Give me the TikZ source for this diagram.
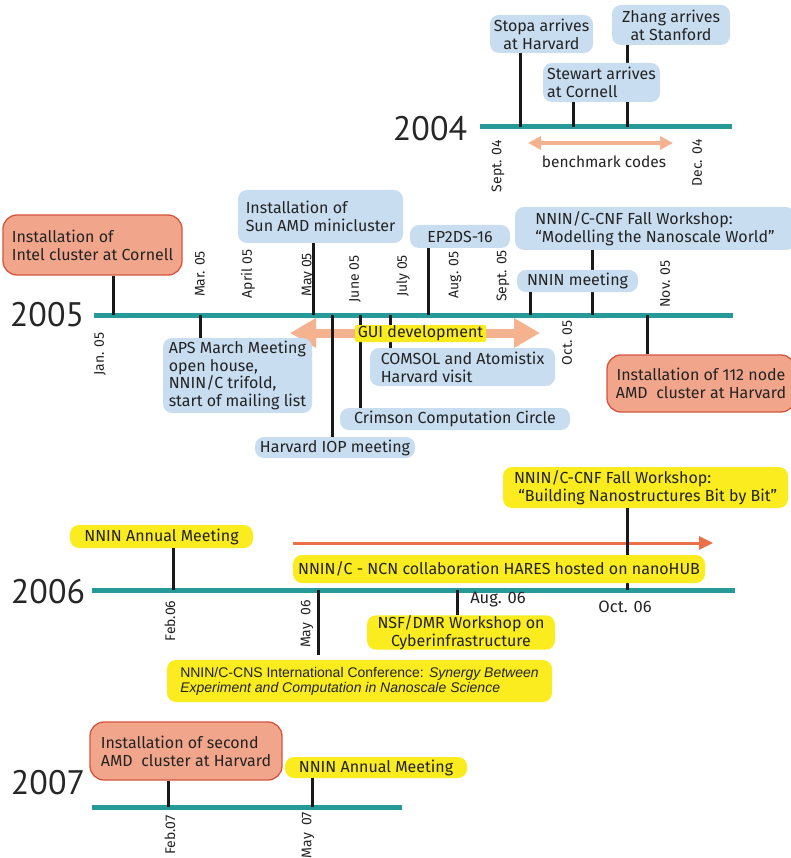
\documentclass[tikz,border=0pt]{standalone}
\usepackage{fontspec}
\setmainfont{Fira Sans}
\newfontfamily\yrf{PT Sans}
\newfontfamily\arialf{Liberation Sans}
\usetikzlibrary{arrows.meta}
\definecolor{teal1}{RGB}{38,154,153}
\definecolor{boxblue}{RGB}{200,221,240}
\definecolor{salfill}{RGB}{241,166,140}
\definecolor{salborder}{RGB}{214,84,62}
\definecolor{ylw}{RGB}{250,236,30}
\definecolor{salarrow}{RGB}{245,178,143}
\definecolor{orarrow}{RGB}{235,112,72}
\definecolor{txt}{RGB}{35,35,35}
\tikzset{
  tline/.style={teal1, line width=5pt},
  tk/.style={black!90, line width=3pt},
  bx/.style={rounded corners=9pt, inner sep=0pt, text=txt, font=\fontsize{16}{18}\selectfont},
  bluebox/.style={bx, fill=boxblue},
  salbox/.style={bx, fill=salfill, draw=salborder, line width=1.3pt, rounded corners=14pt},
  ylwbox/.style={bx, fill=ylw},
  yr/.style={font=\yrf\fontsize{34}{34}\selectfont, text=black!85},
  dt/.style={rotate=90, font=\fontsize{14}{14}\selectfont, text=txt},
  dth/.style={font=\fontsize{16.5}{17}\selectfont, text=txt},
}
\begin{document}
\begin{tikzpicture}[x=1pt,y=-1pt]
\useasboundingbox (0,0) rectangle (791,858);

%%%%%%%%%%%%%%%% 2004
\node[yr] (y04) at (430,129) {2004};
\coordinate (a04) at (480,127); \coordinate (b04) at (732,127);
\draw[tline] (a04) -- (b04);
\coordinate (ba) at (528,143); \coordinate (bb) at (673,143);
\draw[salarrow, line width=3.5pt, {Triangle[width=13pt,length=13pt]}-{Triangle[width=13pt,length=13pt]}] (ba) -- (bb);
\node[dth, font=\fontsize{15.5}{16}\selectfont] (bench) at (604,162) {benchmark codes};
\node[dt] (sep04) at (498,166) {Sept. 04};
\node[dt] (dec04) at (697,163) {Dec. 04};
\node[bluebox, minimum width=103, minimum height=38, align=center] (stopa) at (541.5,34) {Stopa arrives\\at Harvard};
\node[bluebox, minimum width=118, minimum height=40, align=center] (zhang) at (671,25) {Zhang arrives\\at Stanford};
\coordinate (k1) at (520,127); \coordinate (k2) at (573,127); \coordinate (k3) at (627,127);
\coordinate (stw) at (573,102);
\draw[tk] (k1) -- (k1 |- stopa.south);
\draw[tk] (k2) -- (stw);
\draw[tk] (k3) -- (k3 |- zhang.south);
\node[bluebox, minimum width=117, minimum height=39, align=left] (stewart) at (601.5,82.5) {Stewart arrives\\at Cornell};

%%%%%%%%%%%%%%%% 2005
\node[yr] (y05) at (47,315) {2005};
\coordinate (a05) at (94,315); \coordinate (b05) at (733,315);
\draw[tline] (a05) -- (b05);
% dates
\node[dt] (jan05) at (100,354) {Jan. 05};
\node[dt] (mar05) at (200,274) {Mar. 05};
\node[dt] (apr05) at (248,274) {April 05};
\node[dt] (may05) at (308,275) {May 05};
\node[dt] (jun05) at (355,279) {June 05};
\node[dt] (jul05) at (403,276) {July 05};
\node[dt] (aug05) at (455,275) {Aug. 05};
\node[dt] (sep05) at (503,276) {Sept. 05};
\node[dt] (oct05) at (567,343) {Oct. 05};
\node[dt] (nov05) at (665,284) {Nov. 05};
% GUI arrow
\coordinate (ga) at (290,333); \coordinate (gb) at (540,333);
\draw[salarrow, line width=9pt, {Triangle[width=28pt,length=26pt]}-{Triangle[width=28pt,length=26pt]}] (ga) -- (gb);
% boxes
\node[salbox, minimum width=179, minimum height=60, align=left] (intel) at (92.5,245) {Installation of\\Intel cluster at Cornell};
\node[bluebox, minimum width=165, minimum height=53, align=left] (sun) at (320.5,216.5) {Installation of\\Sun AMD minicluster};
\node[bluebox, minimum width=100, minimum height=23] (ep) at (460,236.5) {EP2DS-16};
\node[bluebox, minimum width=280, minimum height=43, align=left] (cnf05) at (655,228.5) {NNIN/C-CNF Fall Workshop:\\“Modelling the Nanoscale World”};
\node[salbox, minimum width=188, minimum height=57, align=center] (amd112) at (701,383.5) {Installation of 112 node\\AMD\ \ cluster at Harvard};
\node[bluebox, minimum width=149, minimum height=75, align=left, font=\fontsize{16}{17.4}\selectfont] (aps) at (237.5,375.5) {APS March Meeting\\open house,\\NNIN/C trifold,\\start of mailing list};
\node[bluebox, minimum width=160, minimum height=21] (iop) at (335,447.5) {Harvard IOP meeting};
\node[bluebox, minimum width=230, minimum height=22] (crim) at (455,419) {Crimson Computation Circle};
\node[bluebox, minimum width=185, minimum height=38, align=left] (comsol) at (462.5,367) {COMSOL and Atomistix\\Harvard visit};
% ticks
\coordinate (t1) at (113,315); \coordinate (t2) at (313,315); \coordinate (t3) at (428,315);
\coordinate (t4) at (592,315); \coordinate (t5) at (530,315); \coordinate (t6) at (647,315);
\coordinate (t7) at (200,315); \coordinate (t8) at (332,315); \coordinate (t9) at (360,315);
\coordinate (t10) at (390,315);
\draw[tk] (t1) -- (t1 |- intel.south);
\draw[tk] (t2) -- (t2 |- sun.south);
\draw[tk] (t3) -- (t3 |- ep.south);
\draw[tk] (t4) -- (t4 |- cnf05.south);
\draw[tk] (t6) -- (t6 |- amd112.north);
\draw[tk] (t7) -- (t7 |- aps.north);
\draw[tk] (t8) -- (t8 |- iop.north);
\draw[tk] (t9) -- (t9 |- crim.north);
\draw[tk] (t10) -- (t10 |- comsol.north);
\node[bluebox, minimum width=121, minimum height=22] (nmeet) at (577.5,281) {NNIN meeting};
\draw[tk] (t5) -- (t5 |- nmeet.south);
\node[ylwbox, rounded corners=2pt, minimum width=131, minimum height=17] (gui) at (420.5,333.5) {GUI development};

%%%%%%%%%%%%%%%% 2006
\node[yr] (y06) at (48,592) {2006};
\coordinate (a06) at (92,590); \coordinate (b06) at (735,590);
\draw[tline] (a06) -- (b06);
\node[dt] (feb06) at (170,621) {Feb.06};
\node[dt] (may06) at (307,624) {May\ \ 06};
\node[dth] (aug06) at (498,600) {Aug. 06};
\node[dth] (oct06) at (625,607) {Oct. 06};
\coordinate (oa) at (293,543); \coordinate (ob) at (713,543);
\draw[orarrow, line width=3pt, -{Triangle[width=13pt,length=14pt]}] (oa) -- (ob);
\node[ylwbox, minimum width=183, minimum height=23] (nam06) at (161.5,536.5) {NNIN Annual Meeting};
\node[ylwbox, minimum width=285, minimum height=41, align=left] (cnf06) at (645.5,487.5) {NNIN/C-CNF Fall Workshop:\\\ “Building Nanostructures Bit by Bit”};
\node[ylwbox, minimum width=188, minimum height=31, align=center] (nsf) at (461,632.5) {NSF/DMR Workshop on\\Cyberinfrastructure};
\node[ylwbox, minimum width=385, minimum height=42, align=left, font=\arialf\fontsize{14}{15}\selectfont] (cns) at (359.5,681) {NNIN/C-CNS International Conference: \textit{Synergy Between}\\\textit{Experiment and Computation in Nanoscale Science}};
\coordinate (u1) at (173,590); \coordinate (u2) at (318,590); \coordinate (u2e) at (318,655);
\coordinate (u3) at (457,590); \coordinate (u4) at (627,590);
\draw[tk] (u1) -- (u1 |- nam06.south);
\draw[tk] (u2) -- (u2e);
\draw[tk] (u3) -- (u3 |- nsf.north);
\draw[tk] (u4) -- (u4 |- cnf06.south);
\node[ylwbox, minimum width=412, minimum height=28] (hares) at (499,569) {NNIN/C - NCN collaboration HARES hosted on nanoHUB};

%%%%%%%%%%%%%%%% 2007
\node[yr] (y07) at (48,783) {2007};
\coordinate (a07) at (92,807); \coordinate (b07) at (402,807);
\draw[tline] (a07) -- (b07);
\node[dt] (feb07) at (170,835) {Feb.07};
\node[dt] (may07) at (308,835) {May\ \ 07};
\node[salbox, minimum width=192, minimum height=58, align=left] (amd2) at (186,751) {Installation of second\\AMD\ \ cluster at Harvard};
\node[ylwbox, minimum width=182, minimum height=21] (nam07) at (376,767.5) {NNIN Annual Meeting};
\coordinate (v1) at (168,807); \coordinate (v2) at (312,807);
\draw[tk] (v1) -- (v1 |- amd2.south);
\draw[tk] (v2) -- (v2 |- nam07.south);
\end{tikzpicture}
\end{document}
